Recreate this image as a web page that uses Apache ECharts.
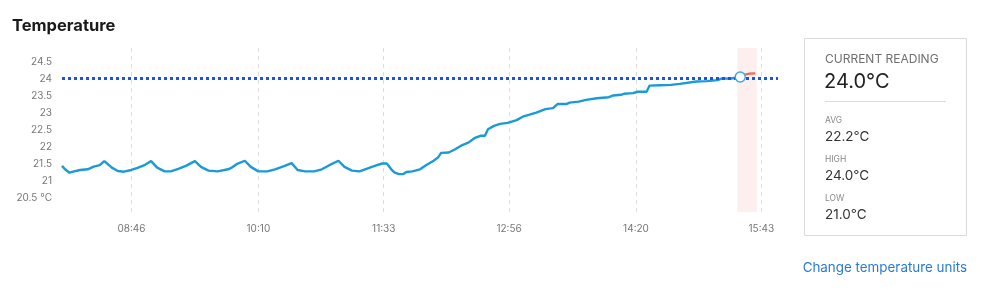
<!DOCTYPE html>
<html><head><meta charset="utf-8">
<script src="https://cdn.jsdelivr.net/npm/echarts@6/dist/echarts.min.js"></script>
<style>html,body{margin:0;padding:0;background:#fff}#c{width:999px;height:302px}</style>
</head><body><div id="c"></div>
<script>
const times = ['08:00','08:02','08:05','08:08','08:12','08:17','08:21','08:25','08:28','08:33','08:37','08:41','08:46','08:50','08:55','08:59','09:03','09:08','09:12','09:17','09:22','09:28','09:32','09:37','09:43','09:50','09:52','09:56','10:01','10:05','10:10','10:16','10:21','10:27','10:32','10:36','10:41','10:47','10:52','10:57','11:03','11:07','11:12','11:17','11:22','11:27','11:32','11:35','11:38','11:40','11:43','11:46','11:48','11:52','11:57','12:01','12:06','12:09','12:11','12:16','12:20','12:25','12:29','12:33','12:37','12:40','12:42','12:46','12:50','12:55','13:01','13:05','13:09','13:14','13:20','13:25','13:28','13:34','13:36','13:42','13:47','13:54','14:02','14:05','14:10','14:12','14:18','14:21','14:27','14:29','14:36','14:43','14:49','15:00','15:07','15:14','15:17','15:18','15:22','15:29'];
const temps = [21.45,21.35,21.25,21.29,21.33,21.35,21.43,21.47,21.59,21.40,21.30,21.28,21.33,21.39,21.48,21.59,21.40,21.29,21.29,21.36,21.45,21.59,21.42,21.31,21.29,21.35,21.39,21.51,21.60,21.42,21.29,21.29,21.35,21.44,21.53,21.33,21.29,21.29,21.35,21.47,21.60,21.42,21.31,21.29,21.37,21.45,21.52,21.52,21.35,21.26,21.21,21.21,21.27,21.29,21.35,21.47,21.60,21.70,21.83,21.84,21.93,22.06,22.13,22.26,22.33,22.33,22.52,22.62,22.68,22.71,22.79,22.89,22.94,23.01,23.11,23.14,23.26,23.26,23.30,23.33,23.38,23.43,23.46,23.51,23.53,23.56,23.58,23.62,23.62,23.80,23.81,23.82,23.85,23.92,23.93,23.96,24.01,23.97,24.00,24.05];
const forecastTimes = ['15:29','15:31','15:35','15:39'];
const forecastTemps = [24.05,24.11,24.15,24.16];
const currentTime = '15:29';
const currentTemp = 24.05;
const targetTemp = 24;
const highlightRange = ['15:27','15:40'];
const axisRange = ['08:00','15:54'];
const xTickLabels = ['08:46','10:10','11:33','12:56','14:20','15:43'];
const yTickValues = [20.5,21,21.5,22,22.5,23,23.5,24,24.5];
const yRange = [20.1,24.9];
const yUnit = '°C';
const statLabels = ['AVG','HIGH','LOW'];
const statValues = ['22.2°C','24.0°C','21.0°C'];
const currentLabel = 'CURRENT READING';
const currentValue = '24.0°C';
const linkText = 'Change temperature units';

const toMin = s => { const p = s.split(':'); return (+p[0])*60 + (+p[1]); };
const tickMins = xTickLabels.map(toMin);
const labelByMin = {}; xTickLabels.forEach(l => labelByMin[toMin(l)] = l);
const FONT = 'Inter, "Noto Sans", sans-serif';

const chart = echarts.init(document.getElementById('c'), null, {renderer:'canvas'});

const graphics = [
  {type:'rect', shape:{x:804.5,y:38.5,width:162,height:197}, style:{fill:'#fff',stroke:'#dadada',lineWidth:1}},
  {type:'text', x:825, y:59, style:{text:currentLabel, font:'12px '+FONT, fill:'#6e6e6e', verticalAlign:'middle'}},
  {type:'text', x:824, y:82, style:{text:currentValue, font:'20px '+FONT, fill:'#222', verticalAlign:'middle'}},
  {type:'line', shape:{x1:825,y1:101.5,x2:946,y2:101.5}, style:{stroke:'#dcdcdc',lineWidth:1}},
  {type:'text', right: 32, top: 261, style:{text:linkText, font:'13.4px '+FONT, fill:'#2a7bd5'}}
];
const statY = [120, 159, 198];
statLabels.forEach((l,i) => {
  graphics.push({type:'text', x:825, y:statY[i], style:{text:l, font:'8.5px '+FONT, fill:'#888', verticalAlign:'middle'}});
  graphics.push({type:'text', x:825, y:statY[i]+16.5, style:{text:statValues[i], font:'13.5px '+FONT, fill:'#333', verticalAlign:'middle'}});
});

chart.setOption({
  animation:false,
  title:{text:'Temperature', left:12, top:18, padding:0, textStyle:{fontFamily:FONT, fontSize:16.5, fontWeight:700, color:'#1a1a1a'}},
  grid:{left:62, right:221, top:48, bottom:90},
  xAxis:{type:'value', min:toMin(axisRange[0]), max:toMin(axisRange[1]),
    axisLine:{show:false},
    axisTick:{show:false, customValues:tickMins},
    axisLabel:{customValues:tickMins, formatter:v => labelByMin[v] || '', color:'#777', fontFamily:FONT, fontSize:10, margin:12},
    splitLine:{show:true, lineStyle:{type:[4,4], color:'#dcdcdc', width:1}}
  },
  yAxis:{type:'value', min:yRange[0], max:yRange[1],
    axisLine:{show:false}, axisTick:{show:false},
    axisLabel:{customValues:yTickValues, formatter:v => (v===yTickValues[0] ? v+' '+yUnit : String(v)), color:'#777', fontFamily:FONT, fontSize:10, margin:10},
    splitLine:{show:false}
  },
  graphic:graphics,
  series:[
    {type:'line', data:times.map((t,i)=>[toMin(t), temps[i]]), showSymbol:false, symbol:'none',
      lineStyle:{color:'#1a9bd7', width:2.4}, itemStyle:{color:'#1a9bd7'}, z:3,
      markArea:{silent:true, itemStyle:{color:'rgba(240,110,90,0.11)'}, data:[[{xAxis:toMin(highlightRange[0])},{xAxis:toMin(highlightRange[1])}]]},
      markLine:{silent:true, symbol:'none', label:{show:false}, z:4,
        lineStyle:{color:'#1a56db', width:3, type:'dotted', opacity:1}, data:[{yAxis:targetTemp}]}
    },
    {type:'line', data:forecastTimes.map((t,i)=>[toMin(t), forecastTemps[i]]), showSymbol:false, symbol:'none',
      lineStyle:{color:'#ee6a4f', width:2.2}, z:3},
    {type:'scatter', data:[[toMin(currentTime), currentTemp]], symbol:'circle', symbolSize:10,
      itemStyle:{color:'#ffffff', opacity:1, borderColor:'#43a5dd', borderWidth:1.5}, z:6}
  ]
});
</script></body></html>
